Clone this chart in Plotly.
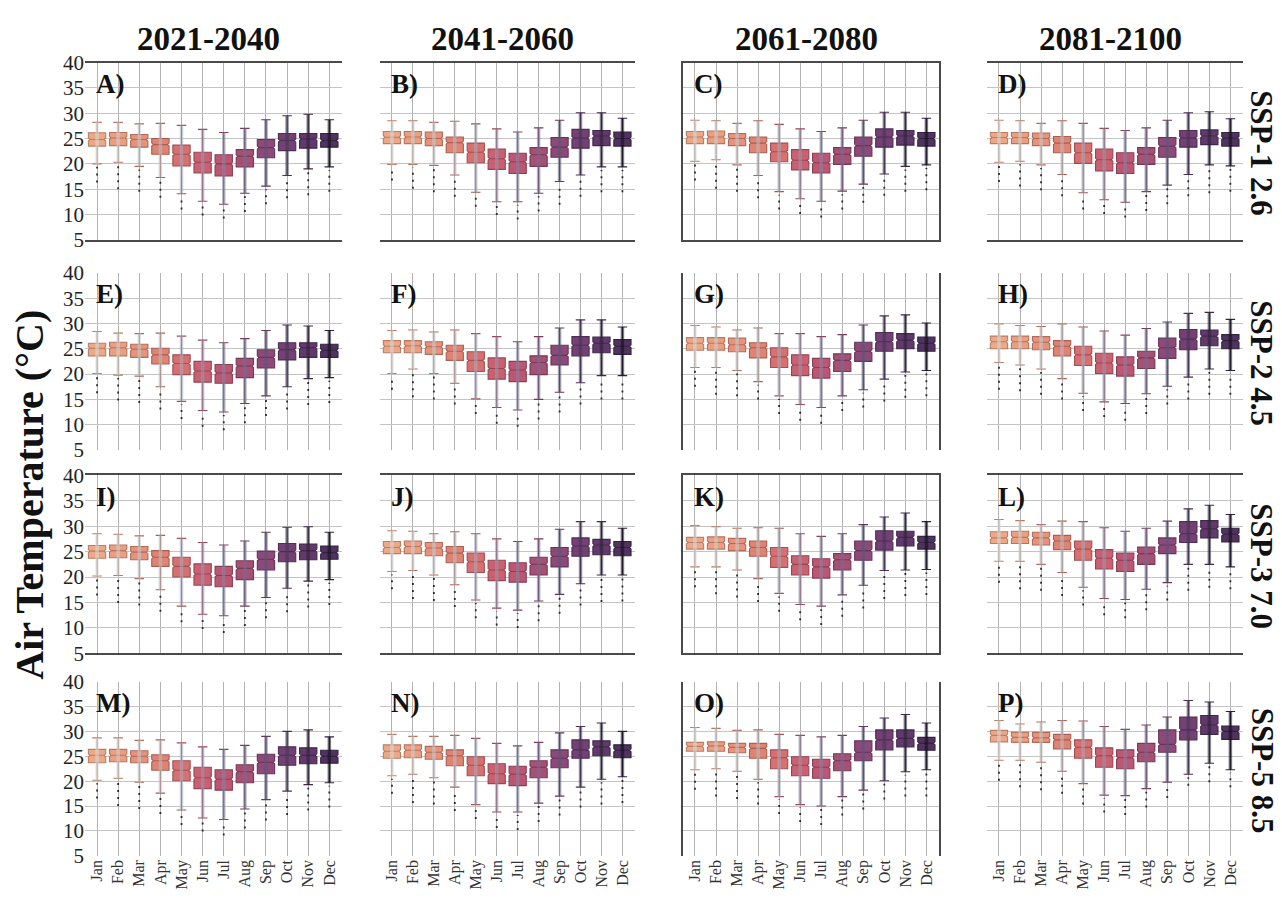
import plotly.graph_objects as go

MONTHS = ["Jan", "Feb", "Mar", "Apr", "May", "Jun", "Jul", "Aug", "Sep", "Oct", "Nov", "Dec"]
PERIODS = ["2021-2040", "2041-2060", "2061-2080", "2081-2100"]
SCENARIOS = ["SSP-1 2.6", "SSP-2 4.5", "SSP-3 7.0", "SSP-5 8.5"]
PANELS = ["A", "B", "C", "D", "E", "F", "G", "H", "I", "J", "K", "L", "M", "N", "O", "P"]

Q1 = {
    "A": [23.5, 23.6, 23.3, 21.9, 19.6, 18.2, 17.6, 19.4, 21.2, 22.6, 23.1, 23.3],
    "B": [24.0, 24.0, 23.6, 22.2, 20.2, 18.9, 18.1, 19.5, 21.3, 23.1, 23.6, 23.5],
    "C": [24.0, 24.0, 23.6, 22.2, 20.4, 18.8, 18.2, 19.9, 21.5, 23.3, 23.7, 23.5],
    "D": [24.0, 24.0, 23.6, 22.2, 20.1, 18.6, 18.1, 19.9, 21.3, 23.3, 23.8, 23.5],
    "E": [23.6, 23.6, 23.3, 22.0, 19.9, 18.4, 18.2, 19.3, 21.2, 22.8, 23.3, 23.3],
    "F": [24.2, 24.2, 23.9, 22.7, 20.5, 19.0, 18.5, 19.9, 21.8, 23.6, 24.2, 23.9],
    "G": [24.7, 24.7, 24.4, 23.2, 21.3, 19.7, 19.2, 20.5, 22.5, 24.5, 25.0, 24.5],
    "H": [25.0, 25.0, 24.8, 23.6, 21.7, 20.1, 19.6, 21.1, 23.1, 24.8, 25.6, 25.0],
    "I": [23.7, 23.8, 23.4, 22.1, 20.0, 18.4, 18.1, 19.5, 21.4, 23.0, 23.4, 23.5],
    "J": [24.6, 24.6, 24.2, 22.8, 20.9, 19.3, 19.0, 20.4, 22.0, 24.1, 24.4, 24.2],
    "K": [25.5, 25.5, 25.2, 24.1, 21.9, 20.4, 19.8, 21.4, 23.3, 25.3, 26.1, 25.5],
    "L": [26.6, 26.6, 26.3, 25.4, 23.3, 21.6, 21.1, 22.5, 24.6, 26.8, 27.7, 26.9],
    "M": [23.7, 23.9, 23.7, 22.2, 20.1, 18.5, 18.2, 19.7, 21.5, 23.2, 23.5, 23.6],
    "N": [24.6, 24.7, 24.4, 23.1, 21.1, 19.5, 19.1, 20.7, 22.7, 24.6, 25.1, 24.7],
    "O": [26.0, 26.0, 25.7, 24.6, 22.5, 21.1, 20.6, 22.1, 24.1, 26.3, 26.9, 26.2],
    "P": [27.9, 27.8, 27.8, 26.5, 24.6, 22.8, 22.5, 23.9, 25.8, 28.3, 29.4, 28.4],
}
MEDIAN = {
    "A": [24.8, 25.1, 24.8, 23.8, 21.9, 20.3, 20.0, 21.5, 23.2, 24.6, 24.9, 24.6],
    "B": [25.25, 25.3, 25.0, 24.2, 22.3, 21.0, 20.4, 21.8, 23.3, 25.1, 25.5, 25.0],
    "C": [25.3, 25.3, 25.0, 24.1, 22.4, 20.7, 20.2, 21.9, 23.6, 25.3, 25.5, 25.0],
    "D": [25.2, 25.2, 25.0, 24.1, 22.2, 20.8, 20.2, 21.9, 23.5, 25.1, 25.5, 25.1],
    "E": [25.1, 25.2, 24.9, 23.8, 22.1, 20.6, 20.2, 21.6, 23.3, 24.8, 25.2, 24.7],
    "F": [25.5, 25.6, 25.4, 24.5, 22.7, 21.1, 20.8, 22.3, 23.7, 25.7, 26.1, 25.5],
    "G": [26.1, 26.1, 25.8, 25.2, 23.4, 21.8, 21.3, 22.7, 24.5, 26.4, 26.7, 26.1],
    "H": [26.4, 26.4, 26.3, 25.5, 23.8, 22.2, 21.8, 23.2, 25.2, 26.9, 27.5, 26.6],
    "I": [25.1, 25.2, 24.9, 23.9, 22.1, 20.6, 20.3, 21.7, 23.5, 25.0, 25.2, 24.8],
    "J": [25.8, 26.0, 25.7, 24.7, 23.0, 21.4, 21.1, 22.5, 24.1, 26.1, 26.3, 25.8],
    "K": [26.8, 26.8, 26.6, 25.8, 24.1, 22.5, 22.0, 23.4, 25.2, 27.1, 27.8, 26.8],
    "L": [27.7, 27.8, 27.7, 27.1, 25.5, 23.7, 23.3, 24.6, 26.3, 28.5, 29.5, 28.4],
    "M": [25.2, 25.2, 25.0, 24.1, 22.2, 20.7, 20.4, 21.9, 23.8, 25.2, 25.2, 25.0],
    "N": [26.0, 26.2, 25.8, 25.1, 23.2, 21.5, 21.4, 22.8, 24.6, 26.3, 26.9, 26.2],
    "O": [27.0, 27.1, 26.8, 26.6, 24.7, 23.2, 22.8, 24.1, 25.8, 28.3, 28.6, 27.6],
    "P": [29.2, 28.8, 28.7, 28.3, 26.8, 25.1, 24.7, 25.8, 27.4, 30.3, 31.3, 30.0],
}
Q3 = {
    "A": [26.15, 26.2, 25.8, 25.0, 23.7, 22.3, 21.8, 22.8, 24.8, 26.0, 26.0, 26.0],
    "B": [26.4, 26.4, 26.3, 25.3, 24.1, 22.9, 22.1, 23.2, 25.2, 26.8, 26.6, 26.3],
    "C": [26.4, 26.5, 26.0, 25.3, 24.1, 22.8, 22.1, 23.2, 25.3, 26.9, 26.6, 26.2],
    "D": [26.2, 26.2, 26.1, 25.4, 24.1, 22.9, 22.2, 23.2, 25.2, 26.6, 26.7, 26.2],
    "E": [26.1, 26.3, 25.9, 25.1, 23.8, 22.5, 21.9, 23.1, 24.8, 26.2, 26.2, 25.9],
    "F": [26.6, 26.6, 26.4, 25.7, 24.4, 23.2, 22.5, 23.6, 25.7, 27.4, 27.3, 26.8],
    "G": [27.2, 27.2, 27.1, 26.2, 25.2, 23.8, 23.1, 24.0, 26.3, 28.2, 28.0, 27.3],
    "H": [27.5, 27.5, 27.4, 26.6, 25.5, 24.1, 23.4, 24.5, 27.1, 28.8, 28.7, 27.8],
    "I": [26.2, 26.3, 26.0, 25.2, 23.9, 22.6, 22.1, 23.2, 25.1, 26.6, 26.5, 26.1],
    "J": [27.0, 27.1, 26.8, 26.0, 24.7, 23.3, 22.8, 23.9, 25.8, 27.7, 27.4, 27.0],
    "K": [27.8, 27.9, 27.6, 27.1, 25.8, 24.2, 23.6, 24.6, 27.1, 29.1, 29.0, 28.0],
    "L": [28.9, 29.0, 28.8, 28.2, 27.1, 25.4, 24.7, 25.9, 27.7, 30.9, 31.1, 29.6],
    "M": [26.4, 26.4, 26.1, 25.3, 24.1, 22.8, 22.3, 23.3, 25.4, 26.9, 26.7, 26.2],
    "N": [27.3, 27.3, 27.0, 26.3, 24.9, 23.5, 23.0, 24.1, 26.3, 28.3, 28.1, 27.3],
    "O": [27.8, 27.9, 27.6, 27.6, 26.3, 24.9, 24.4, 25.5, 28.1, 30.3, 30.3, 28.8],
    "P": [30.2, 29.8, 29.8, 29.4, 28.3, 26.7, 26.3, 27.6, 30.3, 32.9, 33.2, 31.1],
}
LOWER_WHISKER = {
    "A": [20.0, 20.3, 19.5, 17.3, 14.1, 12.6, 12.0, 14.2, 15.6, 17.7, 19.0, 19.4],
    "B": [19.9, 19.9, 19.7, 17.8, 14.4, 12.5, 12.5, 14.2, 16.5, 17.8, 19.4, 19.4],
    "C": [20.5, 20.8, 19.8, 17.7, 14.5, 13.1, 12.6, 14.6, 16.0, 18.0, 19.5, 19.8],
    "D": [20.3, 20.5, 19.8, 17.9, 14.3, 12.9, 12.4, 14.5, 15.8, 17.9, 19.8, 19.6],
    "E": [20.1, 19.8, 19.6, 17.5, 14.6, 12.8, 12.5, 14.2, 15.7, 17.5, 19.1, 19.3],
    "F": [20.1, 21.0, 20.1, 18.2, 15.1, 13.4, 12.9, 15.0, 16.4, 18.3, 19.7, 19.7],
    "G": [21.3, 21.3, 20.7, 18.5, 15.7, 14.0, 13.4, 15.7, 16.9, 19.0, 20.4, 20.7],
    "H": [22.3, 21.8, 21.0, 19.1, 16.2, 14.5, 14.2, 16.1, 17.6, 19.4, 21.0, 20.7],
    "I": [20.2, 20.3, 19.7, 17.5, 14.3, 12.7, 12.4, 14.3, 16.0, 17.8, 19.2, 19.5],
    "J": [21.1, 21.3, 20.4, 18.5, 15.5, 13.9, 13.5, 15.3, 16.6, 18.7, 20.4, 20.4],
    "K": [22.0, 22.0, 21.4, 19.7, 16.8, 14.6, 14.3, 16.5, 18.4, 21.3, 21.4, 21.5],
    "L": [23.1, 23.1, 22.5, 20.9, 18.0, 15.8, 15.6, 17.6, 18.9, 22.5, 22.5, 22.0],
    "M": [20.2, 20.6, 19.8, 17.6, 14.2, 12.6, 12.3, 14.4, 16.3, 18.0, 19.3, 19.7],
    "N": [21.1, 21.4, 20.7, 18.8, 15.3, 13.8, 13.8, 15.6, 17.0, 18.8, 20.4, 20.9],
    "O": [22.3, 22.5, 22.0, 20.4, 16.9, 15.3, 15.0, 16.9, 18.2, 20.1, 21.9, 22.3],
    "P": [24.2, 24.2, 23.8, 22.0, 19.5, 17.2, 17.1, 18.5, 19.8, 21.4, 23.6, 22.3],
}
UPPER_WHISKER = {
    "A": [28.2, 28.2, 27.9, 28.0, 27.6, 26.8, 26.2, 27.0, 28.7, 29.5, 29.8, 28.7],
    "B": [28.5, 28.5, 28.2, 28.4, 27.9, 26.9, 26.3, 27.1, 28.6, 30.1, 30.1, 29.0],
    "C": [28.6, 28.5, 28.0, 28.5, 27.8, 26.9, 26.4, 27.1, 28.6, 30.2, 30.2, 29.0],
    "D": [28.6, 28.5, 28.0, 28.5, 28.0, 27.0, 26.6, 27.1, 28.6, 30.1, 30.3, 28.9],
    "E": [28.4, 28.1, 28.0, 28.1, 27.5, 26.7, 26.2, 27.0, 28.6, 29.7, 29.5, 28.6],
    "F": [28.6, 28.7, 28.3, 28.7, 28.0, 27.4, 26.4, 27.4, 29.1, 30.7, 30.7, 29.3],
    "G": [29.6, 29.3, 28.7, 29.1, 28.0, 28.0, 27.4, 27.8, 29.7, 31.5, 31.7, 30.1],
    "H": [29.9, 29.6, 29.4, 29.9, 29.3, 28.5, 27.7, 29.0, 30.3, 32.0, 32.2, 30.8],
    "I": [28.5, 28.4, 28.1, 28.2, 27.6, 26.8, 26.3, 27.1, 28.8, 29.8, 29.9, 28.8],
    "J": [29.1, 29.0, 28.5, 28.9, 28.5, 27.5, 27.0, 27.5, 29.4, 30.9, 30.9, 29.6],
    "K": [30.1, 29.9, 29.6, 29.7, 29.6, 28.5, 28.0, 28.5, 30.3, 31.8, 32.6, 30.9],
    "L": [31.3, 31.1, 30.3, 31.0, 30.9, 29.7, 29.0, 29.6, 31.0, 33.4, 34.1, 32.3],
    "M": [28.7, 28.7, 28.2, 28.3, 27.7, 26.9, 26.4, 27.2, 29.0, 30.0, 30.3, 28.9],
    "N": [29.4, 29.0, 29.0, 29.2, 28.6, 27.6, 27.1, 27.8, 29.7, 31.0, 31.7, 30.0],
    "O": [30.8, 30.6, 30.2, 30.3, 29.4, 29.2, 28.9, 29.2, 31.0, 32.7, 33.4, 31.7],
    "P": [32.2, 31.5, 31.9, 32.2, 32.1, 31.0, 30.4, 31.3, 32.9, 36.2, 35.9, 34.0],
}
OUTLIER_MIN = {
    "A": [16.3, 15.0, 14.5, 13.3, 11.0, 9.8, 9.2, 10.5, 12.0, 13.2, 13.8, 14.5],
    "B": [16.7, 15.1, 14.4, 13.5, 11.5, 9.9, 9.0, 10.6, 11.9, 13.5, 14.4, 14.4],
    "C": [16.7, 15.1, 14.5, 13.2, 11.0, 10.1, 9.4, 11.0, 12.3, 13.7, 14.5, 14.8],
    "D": [16.4, 15.5, 14.8, 13.6, 11.0, 10.1, 9.4, 10.7, 12.0, 13.6, 14.2, 14.5],
    "E": [16.2, 14.8, 14.3, 13.0, 11.1, 9.6, 8.9, 10.3, 11.7, 13.0, 13.9, 14.3],
    "F": [16.9, 15.4, 15.0, 14.0, 12.1, 10.2, 9.6, 11.0, 12.4, 14.0, 15.0, 15.0],
    "G": [17.5, 15.9, 15.6, 15.0, 12.1, 10.8, 10.2, 12.7, 13.4, 14.6, 15.3, 15.6],
    "H": [16.9, 16.6, 15.9, 15.0, 12.7, 11.5, 10.8, 12.1, 14.0, 15.0, 15.9, 15.9],
    "I": [16.4, 14.9, 14.4, 13.2, 11.1, 9.8, 9.0, 10.4, 11.9, 13.1, 14.0, 14.5],
    "J": [17.6, 15.7, 15.3, 14.1, 11.9, 10.5, 10.0, 11.3, 12.8, 14.4, 15.1, 15.2],
    "K": [18.0, 16.6, 16.0, 15.1, 13.2, 11.5, 10.6, 12.2, 13.8, 15.7, 16.3, 16.5],
    "L": [18.9, 17.6, 17.3, 16.3, 14.4, 12.5, 11.9, 13.5, 15.4, 17.3, 17.9, 17.6],
    "M": [16.5, 15.0, 14.4, 13.4, 11.2, 9.9, 9.1, 10.5, 12.1, 13.2, 14.1, 14.7],
    "N": [17.5, 15.6, 15.3, 14.0, 12.4, 10.6, 10.2, 11.8, 13.1, 14.7, 15.3, 15.6],
    "O": [18.3, 16.9, 16.4, 15.3, 13.4, 11.8, 11.2, 13.1, 14.3, 16.3, 16.9, 16.9],
    "P": [20.1, 18.8, 18.2, 17.5, 15.3, 13.7, 13.2, 14.7, 16.6, 19.1, 19.8, 18.8],
}

# styles
BOX_FILL = ["#EAA583", "#E89A7C", "#E48E75", "#DE7D6C", "#D4696A", "#C8596B",
            "#BA4E6C", "#A2476F", "#8A4072", "#6E366C", "#5A2F63", "#482957"]
BOX_EDGE = ["#B8775C", "#B56E56", "#B06350", "#A8564A", "#9E474A", "#923C4C",
            "#84344D", "#702F50", "#5C2A52", "#47234D", "#381E45", "#2A183A"]
PT_COLOR = ["#D5DEDF", "#CCD6D8", "#C2CFD2", "#B5C2C9", "#A5AFC0", "#949BB3",
            "#8489A5", "#6F7393", "#575A7A", "#3C3C52", "#252533", "#0E0E16"]

FONT = "Liberation Serif"
W, H = 1282, 899
COLS_PX = [(85, 342), (380, 635), (683, 939), (987, 1243)]
ROWS_PX = [(52, 234), (268, 450), (476, 659), (688, 867)]

fig = go.Figure()
layout = dict(
    width=W, height=H, margin=dict(l=0, r=0, t=0, b=0),
    paper_bgcolor="white", plot_bgcolor="white", showlegend=False,
    boxmode="overlay", font=dict(family=FONT, color="#222"),
)
annotations = []

for k, p in enumerate(PANELS):
    r, c = divmod(k, 4)
    xs = "x" if k == 0 else f"x{k+1}"
    ys = "y" if k == 0 else f"y{k+1}"
    xl = "xaxis" if k == 0 else f"xaxis{k+1}"
    yl = "yaxis" if k == 0 else f"yaxis{k+1}"
    x0, x1 = COLS_PX[c]
    y0, y1 = ROWS_PX[r]

    for i in range(12):
        fig.add_trace(go.Box(
            x=[i], q1=[Q1[p][i]], median=[MEDIAN[p][i]], q3=[Q3[p][i]],
            lowerfence=[LOWER_WHISKER[p][i]], upperfence=[UPPER_WHISKER[p][i]],
            notched=True, notchspan=[0.3], notchwidth=0.1,
            width=0.82, whiskerwidth=0.55, boxpoints=False,
            fillcolor=BOX_FILL[i], line=dict(color=BOX_EDGE[i], width=1.1),
            opacity=0.95, xaxis=xs, yaxis=ys, hoverinfo="skip",
        ))
    # dense point clouds, drawn as a narrow band between the whiskers
    for i in range(12):
        fig.add_trace(go.Scatter(
            x=[i, i], y=[LOWER_WHISKER[p][i], UPPER_WHISKER[p][i]],
            mode="lines", line=dict(color=PT_COLOR[i], width=3.5),
            opacity=0.55, xaxis=xs, yaxis=ys, hoverinfo="skip",
        ))
    ox, oy = [], []
    for i in range(12):
        ox += [i, i, None]
        oy += [OUTLIER_MIN[p][i], LOWER_WHISKER[p][i] - 0.6, None]
    fig.add_trace(go.Scatter(
        x=ox, y=oy, mode="lines",
        line=dict(color="#2a2a2a", width=1.8, dash="2px,5px"),
        xaxis=xs, yaxis=ys, hoverinfo="skip",
    ))

    boxed_rows = r in (0, 2)
    layout[xl] = dict(
        domain=[x0 / W, x1 / W], anchor=ys, range=[-0.57, 11.6],
        tickmode="array", tickvals=list(range(12)), ticktext=MONTHS,
        showticklabels=(r == 3), tickangle=-90, ticks="",
        tickfont=dict(family=FONT, size=16, color="#333"),
        showgrid=True, gridcolor="#b3b3b3", gridwidth=1, zeroline=False,
        showline=boxed_rows, mirror=True, linecolor="#4a4a4a", linewidth=1.5,
    )
    layout[yl] = dict(
        domain=[1 - y1 / H, 1 - y0 / H], anchor=xs, range=[5, 40],
        tickmode="array", tickvals=[5, 10, 15, 20, 25, 30, 35, 40],
        showticklabels=(c == 0), ticks="",
        tickfont=dict(family=FONT, size=21, color="#222"),
        showgrid=True, gridcolor="#c4c4c4", gridwidth=1, zeroline=False,
        showline=(c == 2), mirror=True, linecolor="#4a4a4a", linewidth=1.5,
    )
    annotations.append(dict(
        text=f"<b>{p})</b>", x=(x0 + 9) / W, y=1 - (y0 + 22) / H,
        xref="paper", yref="paper", xanchor="left", yanchor="middle",
        showarrow=False, font=dict(family=FONT, size=27, color="#111"),
    ))

for c, t in enumerate(PERIODS):
    x0, x1 = COLS_PX[c]
    annotations.append(dict(
        text=f"<b>{t}</b>", x=((x0 + x1) / 2 - 5) / W, y=1 - 28 / H,
        xref="paper", yref="paper", xanchor="center", yanchor="middle",
        showarrow=False, font=dict(family=FONT, size=33, color="#111"),
    ))
for r, t in enumerate(SCENARIOS):
    y0, y1 = ROWS_PX[r]
    annotations.append(dict(
        text=f"<b>{t}</b>", x=1262 / W, y=1 - ((y0 + y1) / 2 + 2) / H,
        xref="paper", yref="paper", xanchor="center", yanchor="middle",
        textangle=90, showarrow=False,
        font=dict(family=FONT, size=31, color="#111"),
    ))
annotations.append(dict(
    text="<b>Air Temperature (°C)</b>", x=30 / W, y=1 - 496 / H,
    xref="paper", yref="paper", xanchor="center", yanchor="middle",
    textangle=-90, showarrow=False,
    font=dict(family=FONT, size=40, color="#111"),
))
layout["annotations"] = annotations
fig.update_layout(**layout)
fig.write_html(
    "out.html",
    config={"displayModeBar": False},
    post_script="document.body.style.margin='0';document.body.style.overflow='hidden';",
)
